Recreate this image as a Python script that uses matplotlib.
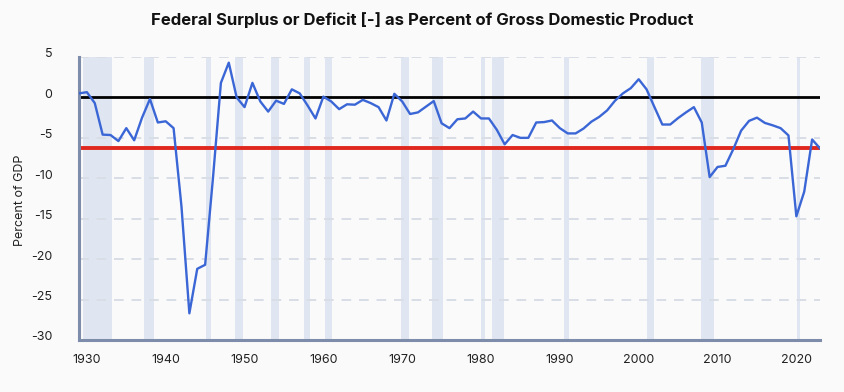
import matplotlib
matplotlib.use("Agg")
import matplotlib.pyplot as plt
import matplotlib.transforms as mtransforms
import numpy as np

years = list(range(1929, 2024))
surplus_pct_gdp = [
    0.5, 0.65, -0.7, -4.6, -4.65, -5.4, -3.8, -5.3, -2.5, -0.2,   # 1929-1938
    -3.1, -2.95, -3.8, -13.5, -26.7, -21.2, -20.7, -9.9, 1.8, 4.3,  # 1939-1948
    0.0, -1.2, 1.8, -0.5, -1.75, -0.4, -0.8, 1.0, 0.5, -1.0,     # 1949-1958
    -2.6, 0.1, -0.5, -1.45, -0.85, -0.9, -0.3, -0.7, -1.2, -2.85,  # 1959-1968
    0.45, -0.5, -2.05, -1.85, -1.15, -0.45, -3.2, -3.8, -2.7, -2.6,  # 1969-1978
    -1.75, -2.6, -2.6, -4.0, -5.8, -4.65, -5.0, -5.0, -3.1, -3.05,  # 1979-1988
    -2.85, -3.8, -4.45, -4.45, -3.85, -3.0, -2.4, -1.6, -0.4, 0.5,  # 1989-1998
    1.15, 2.25, 1.0, -1.2, -3.35, -3.35, -2.55, -1.85, -1.2, -3.1,  # 1999-2008
    -9.85, -8.6, -8.45, -6.4, -4.1, -2.9, -2.5, -3.15, -3.45, -3.8,  # 2009-2018
    -4.7, -14.7, -11.65, -5.2, -6.3,                               # 2019-2023
]
recessions = [
    (1929.5, 1933.2), (1937.3, 1938.5), (1945.1, 1945.8), (1948.8, 1949.8),
    (1953.4, 1954.4), (1957.5, 1958.3), (1960.2, 1961.1), (1969.85, 1970.9),
    (1973.8, 1975.2), (1979.95, 1980.5), (1981.45, 1982.9), (1990.5, 1991.2),
    (2001.1, 2001.9), (2007.95, 2009.5), (2020.05, 2020.4),
]
x_ticks = [1930, 1940, 1950, 1960, 1970, 1980, 1990, 2000, 2010, 2020]
y_ticks = [5, 0, -5, -10, -15, -20, -25, -30]
title = "Federal Surplus or Deficit [-] as Percent of Gross Domestic Product"
ylabel = "Percent of GDP"

plt.rcParams['font.family'] = ['Inter', 'DejaVu Sans']
bg = "#fafafa"
fig = plt.figure(figsize=(8.45, 3.92), dpi=100, facecolor=bg)
ax = fig.add_axes([79/845, 1-340/392, (820-79)/845, (340-57)/392], facecolor=bg)

for a, b in recessions:
    ax.axvspan(a, b, color="#dfe6f1", lw=0, zorder=0)

for v in y_ticks:
    if v not in (0, -30):
        ax.axhline(v, color="#d9dee6", lw=1.4, ls=(0, (5, 4)), zorder=1)

ax.axhline(0, color="#000000", lw=2.0, zorder=2)
ax.axhline(surplus_pct_gdp[-1], color="#e0281e", lw=2.8, zorder=2)
ax.plot(years, surplus_pct_gdp, color="#3b66d6", lw=1.7, zorder=3)

ax.set_xlim(1929, 2023)
ax.set_ylim(-30, 5)
ax.set_xticks(x_ticks)
ax.set_yticks(y_ticks)
ax.set_xticklabels([str(t) for t in x_ticks])
ax.set_yticklabels([str(t) for t in y_ticks])
ax.tick_params(axis='both', length=0, labelsize=9, colors="#222222")
ax.tick_params(axis='y', pad=19)
ax.tick_params(axis='x', pad=10)
offset = mtransforms.ScaledTranslation(0, 4/100, fig.dpi_scale_trans)
for lab in ax.get_yticklabels():
    lab.set_transform(lab.get_transform() + offset)

for s in ("top", "right"):
    ax.spines[s].set_visible(False)
for s in ("left", "bottom"):
    ax.spines[s].set_color("#7d8cab")
    ax.spines[s].set_linewidth(2.2)

fig.text(20/845, 1-200/392, ylabel, rotation=90, ha="center", va="center",
         fontsize=9, color="#222222")
fig.text(0.5, 1-20/392, title, ha="center", va="center", fontsize=12,
         fontweight="bold", color="#111111")

fig.savefig("out.png", dpi=100, facecolor=bg)
